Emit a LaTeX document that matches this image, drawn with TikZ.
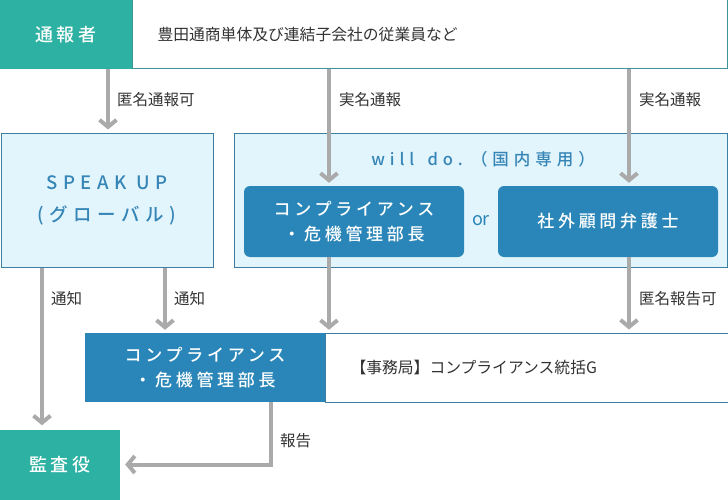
\documentclass[tikz,border=0pt]{standalone}
\usepackage{fontspec}
\usepackage{xcolor}
\usetikzlibrary{arrows.meta}
\setmainfont{Noto Sans CJK JP}
\newfontfamily\widefont[LetterSpace=22,UprightFont={* Medium}]{Noto Sans CJK JP}
\newfontfamily\widerfont[LetterSpace=30,UprightFont={* Medium}]{Noto Sans CJK JP}
\definecolor{tealfill}{HTML}{2DB1A2}
\definecolor{tealline}{HTML}{3E949C}
\definecolor{bluefill}{HTML}{2A86B8}
\definecolor{blueline}{HTML}{3D7FA3}
\definecolor{paleblue}{HTML}{E3F5FC}
\definecolor{bluetext}{HTML}{3585B6}
\definecolor{arrowgrey}{HTML}{AAAAAA}
\definecolor{textgrey}{HTML}{333333}

\begin{document}
\begin{tikzpicture}[x=1pt,y=-1pt]
	\tikzstyle{every node}+=[inner sep=0pt]
	\tikzstyle{headbox}=[fill=tealfill, text=white, font=\fontsize{18}{22}\selectfont\widefont]
	\tikzstyle{whitebox}=[draw, fill=white, text=textgrey, line width=1pt, font=\fontsize{15.8}{18}\selectfont]
	\tikzstyle{palebox}=[draw=blueline, fill=paleblue, line width=1pt, text=bluetext]
	\tikzstyle{deskbox}=[fill=bluefill, text=white, align=center, font=\fontsize{17}{25}\selectfont\widefont]
	\tikzstyle{lbl}=[anchor=west, text=textgrey, font=\fontsize{15.5}{18}\selectfont]
	\tikzstyle{flow}=[draw=arrowgrey, line width=4pt, -{Straight Barb[length=7pt,width=17pt]}]
	\useasboundingbox (0,0) rectangle (728,500);
	\node[whitebox, draw=tealline, anchor=west, minimum width=595pt, minimum height=69pt, text width=545pt, inner xsep=25pt, align=left] (members) at (132,34.5) {豊田通商単体及び連結子会社の従業員など};
	\node[headbox, minimum width=132pt, minimum height=69pt] (reporter) at (66,34.5) {通報者};
	\node[palebox, minimum width=212pt, minimum height=133pt, align=center, font=\fontsize{18.5}{32}\selectfont\widerfont] (speakup) at (107,200.5) {SPEAK UP\\(グローバル)};
	\node[palebox, minimum width=493pt, minimum height=133pt] (willdo) at (480.5,200.5) {};
	\node[text=bluetext, font=\fontsize{16.5}{20}\selectfont\widerfont] (willtitle) at (483,159) {will\hspace*{0.8em}do.\hspace*{0.5em}（国内専用）};
	\node[deskbox, rounded corners=6pt, minimum width=220pt, minimum height=71pt] (comp) at (354,221.5) {コンプライアンス\\・危機管理部長};
	\node[text=bluefill, font=\fontsize{18}{22}\selectfont] (or) at (481,221) {or};
	\node[deskbox, rounded corners=6pt, minimum width=220pt, minimum height=71pt] (lawyer) at (608,221.5) {社外顧問弁護士};
	\node[whitebox, draw=blueline, anchor=west, minimum width=402pt, minimum height=69pt, text width=377pt, inner xsep=25pt, align=left] (office) at (325,367.5) {【事務局】コンプライアンス統括G};
	\node[deskbox, minimum width=240pt, minimum height=69pt] (compdesk) at (205,367.5) {コンプライアンス\\・危機管理部長};
	\node[headbox, minimum width=120pt, minimum height=70pt] (auditor) at (60,464.5) {監査役};
	\draw[flow, shorten >=4pt] (reporter.south -| 108,0) -- (speakup.north -| 108,0);
	\node[lbl] (anon) at (117,100) {匿名通報可};
	\draw[flow, shorten >=3pt] (members.south -| 329,0) -- (comp.north -| 329,0);
	\node[lbl] (realone) at (339,100) {実名通報};
	\draw[flow, shorten >=3pt] (members.south -| 629,0) -- (lawyer.north -| 629,0);
	\node[lbl] (realtwo) at (639,100) {実名通報};
	\draw[flow, shorten >=4pt] (speakup.south -| 42,0) -- (auditor.north -| 42,0);
	\node[lbl] (notea) at (51,299) {通知};
	\draw[flow, shorten >=3pt] (speakup.south -| 165,0) -- (compdesk.north -| 165,0);
	\node[lbl] (noteb) at (174,299) {通知};
	\draw[flow, shorten >=3pt] (comp.south -| 329,0) -- (compdesk.north -| 329,0);
	\draw[flow, shorten >=3pt] (lawyer.south -| 629,0) -- (office.north -| 629,0);
	\node[lbl] (anonrep) at (639,299) {匿名報告可};
	\draw[flow, shorten >=5pt] (compdesk.south -| 271,0) |- (auditor.east);
	\node[lbl] (report) at (280,441) {報告};
\end{tikzpicture}
\end{document}
